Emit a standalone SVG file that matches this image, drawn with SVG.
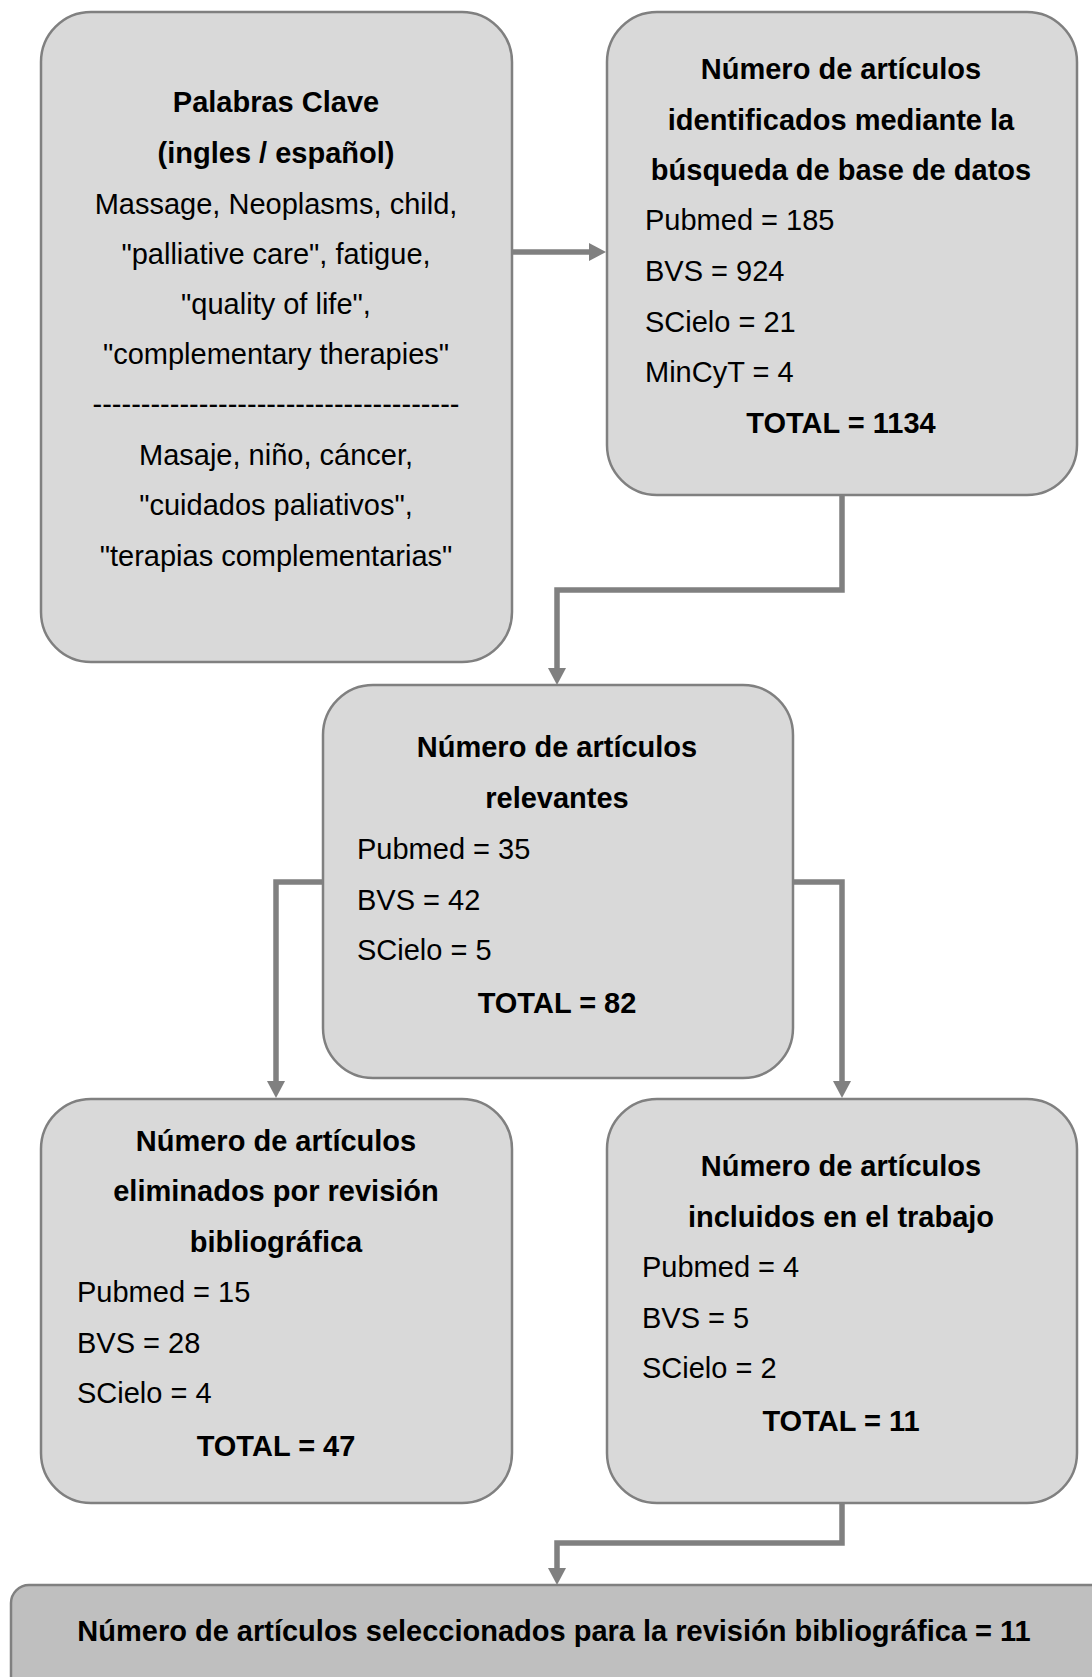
<svg xmlns="http://www.w3.org/2000/svg" width="1092" height="1677" viewBox="0 0 1092 1677">
<style>
.box{fill:#d9d9d9;stroke:#808080;stroke-width:2.5}
.final{fill:#bfbfbf;stroke:#808080;stroke-width:2.5}
text{font-family:"Liberation Sans",Arial,sans-serif;font-size:29px;fill:#000}
.b{font-weight:bold}
.c{text-anchor:middle}
.conn{fill:none;stroke:#808080;stroke-width:5.5;stroke-linejoin:miter}
</style>
<defs>
<marker id="ah" markerUnits="userSpaceOnUse" viewBox="0 0 17 18" refX="0" refY="9" markerWidth="17" markerHeight="18" orient="auto">
<path d="M0,0 L17,9 L0,18 Z" fill="#808080"/>
</marker>
</defs>
<rect width="1092" height="1677" fill="#fff"/>
<g id="connectors">
<path class="conn" d="M511,252 H589" marker-end="url(#ah)"/>
<path class="conn" d="M842,495 V590 H557 V668" marker-end="url(#ah)"/>
<path class="conn" d="M323,882 H276 V1081" marker-end="url(#ah)"/>
<path class="conn" d="M793,882 H842 V1081" marker-end="url(#ah)"/>
<path class="conn" d="M842,1503 V1543 H557 V1568" marker-end="url(#ah)"/>
</g>
<g id="keywords">
<rect class="box" x="41" y="12" width="471" height="650" rx="50" ry="50"/>
<text class="b c" x="276" y="112">Palabras Clave</text>
<text class="b c" x="276" y="162.5">(ingles / español)</text>
<text class="c" x="276" y="213.5">Massage, Neoplasms, child,</text>
<text class="c" x="276" y="263.5">"palliative care", fatigue,</text>
<text class="c" x="276" y="313.5">"quality of life",</text>
<text class="c" x="276" y="364">"complementary therapies"</text>
<text class="c" x="276" y="414">--------------------------------------</text>
<text class="c" x="276" y="465">Masaje, niño, cáncer,</text>
<text class="c" x="276" y="515">"cuidados paliativos",</text>
<text class="c" x="276" y="566">"terapias complementarias"</text>
</g>
<g id="identificados">
<rect class="box" x="607" y="12" width="470" height="483" rx="50" ry="50"/>
<text class="b c" x="841" y="79">Número de artículos</text>
<text class="b c" x="841" y="129.5">identificados mediante la</text>
<text class="b c" x="841" y="180">búsqueda de base de datos</text>
<text x="645" y="230">Pubmed = 185</text>
<text x="645" y="281">BVS = 924</text>
<text x="645" y="331.5">SCielo = 21</text>
<text x="645" y="382">MinCyT = 4</text>
<text class="b c" x="841" y="433">TOTAL = 1134</text>
</g>
<g id="relevantes">
<rect class="box" x="323" y="685" width="470" height="393" rx="50" ry="50"/>
<text class="b c" x="557" y="757">Número de artículos</text>
<text class="b c" x="557" y="808">relevantes</text>
<text x="357" y="859">Pubmed = 35</text>
<text x="357" y="909.5">BVS = 42</text>
<text x="357" y="960">SCielo = 5</text>
<text class="b c" x="557" y="1012.5">TOTAL = 82</text>
</g>
<g id="eliminados">
<rect class="box" x="41" y="1099" width="471" height="404" rx="50" ry="50"/>
<text class="b c" x="276" y="1150.5">Número de artículos</text>
<text class="b c" x="276" y="1201">eliminados por revisión</text>
<text class="b c" x="276" y="1251.5">bibliográfica</text>
<text x="77" y="1302">Pubmed = 15</text>
<text x="77" y="1352.5">BVS = 28</text>
<text x="77" y="1403">SCielo = 4</text>
<text class="b c" x="276" y="1455.5">TOTAL = 47</text>
</g>
<g id="incluidos">
<rect class="box" x="607" y="1099" width="470" height="404" rx="50" ry="50"/>
<text class="b c" x="841" y="1176">Número de artículos</text>
<text class="b c" x="841" y="1226.5">incluidos en el trabajo</text>
<text x="642" y="1277">Pubmed = 4</text>
<text x="642" y="1327.5">BVS = 5</text>
<text x="642" y="1378">SCielo = 2</text>
<text class="b c" x="841" y="1431">TOTAL = 11</text>
</g>
<g id="seleccionados">
<rect class="final" x="11" y="1585" width="1100" height="140" rx="18" ry="18"/>
<text class="b c" x="554" y="1641">Número de artículos seleccionados para la revisión bibliográfica = 11</text>
</g>
</svg>
